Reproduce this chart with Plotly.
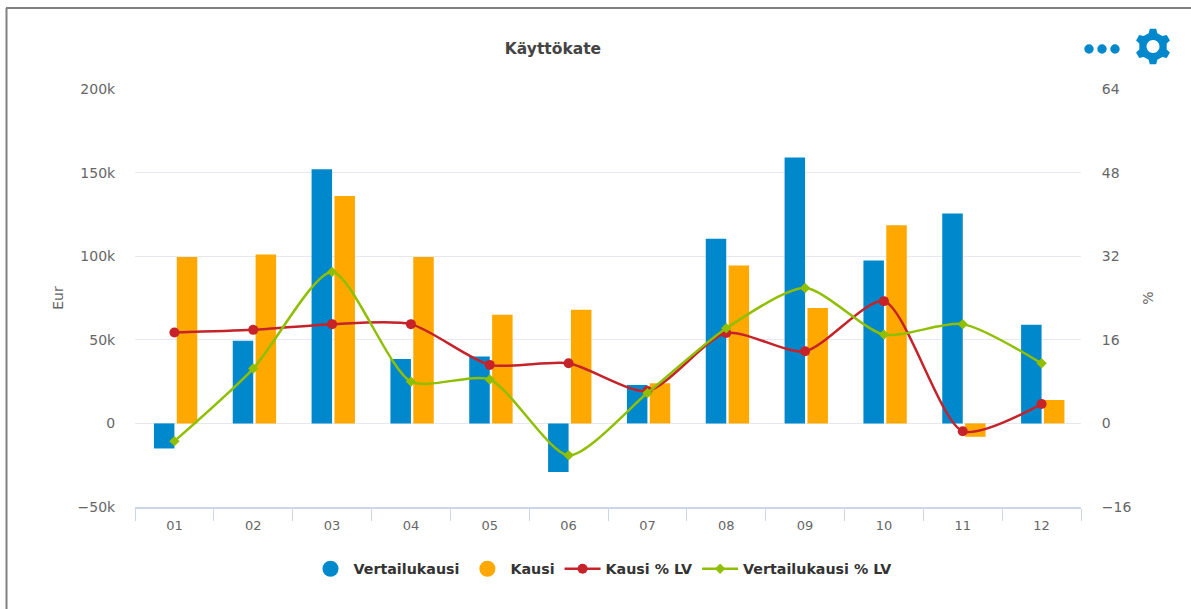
import math
import plotly.graph_objects as go

months = ["01","02","03","04","05","06","07","08","09","10","11","12"]
vertailu = [-15000,49500,152000,38500,40000,-29000,23000,110500,159000,97500,125500,59000]
kausi = [99500,101000,136000,99500,65000,68000,24000,94500,69000,118500,-8000,14000]
kausi_pct = [17.4,17.9,19.0,19.0,11.2,11.5,6.2,17.3,13.8,23.4,-1.5,3.7]
vertailu_pct = [-3.4,10.5,29.0,8.0,8.4,-6.1,5.8,18.2,25.9,17.0,19.0,11.5]
left_ticks = [-50000,0,50000,100000,150000,200000]
left_labels = ["−50k","0","50k","100k","150k","200k"]
right_ticks = [-16,0,16,32,48,64]
right_labels = ["−16","0","16","32","48","64"]

BLUE="#0088cc"; ORANGE="#ffa800"; RED="#c5222a"; GREEN="#8fbf00"
FONT="DejaVu Sans"
W,H=1191,609
L,R,T,B=135,1081,89,507
px=lambda x:(x-L)/(R-L)
py=lambda y:(B-y)/(B-T)

fig=go.Figure()
fig.add_bar(x=months,y=vertailu,width=0.26,offset=-0.26,marker_color=BLUE,marker_line_width=0,showlegend=False,name="Vertailukausi")
fig.add_bar(x=months,y=kausi,width=0.26,offset=0.03,marker_color=ORANGE,marker_line_width=0,showlegend=False,name="Kausi")
fig.add_scatter(x=[None],y=[None],mode="markers",name="Vertailukausi",marker=dict(color=BLUE,size=16,symbol="circle"))
fig.add_scatter(x=[None],y=[None],mode="markers",name="Kausi",marker=dict(color=ORANGE,size=16,symbol="circle"))
fig.add_scatter(x=months,y=kausi_pct,yaxis="y2",mode="lines+markers",name="Kausi % LV",
    line=dict(color=RED,width=2.5,shape="spline",smoothing=0.7),marker=dict(color=RED,size=10,symbol="circle"))
fig.add_scatter(x=months,y=vertailu_pct,yaxis="y2",mode="lines+markers",name="Vertailukausi % LV",
    line=dict(color=GREEN,width=2.5,shape="spline",smoothing=0.7),marker=dict(color=GREEN,size=8,symbol="diamond"))

def gear_path(cx,cy,ro,ri,hole,teeth=6):
    pts=[]
    step=2*math.pi/teeth
    for i in range(teeth):
        a=i*step-math.pi/2
        for da,r in ((-0.30*step,ri),(-0.17*step,ro),(0.17*step,ro),(0.30*step,ri)):
            pts.append((cx+r*math.cos(a+da),cy+r*math.sin(a+da)))
    d="M"+" L".join(f"{px(x):.5f},{py(y):.5f}" for x,y in pts)+" Z "
    n=24
    hp=[(cx+hole*math.cos(2*math.pi*k/n),cy+hole*math.sin(2*math.pi*k/n)) for k in range(n)]
    d+="M"+" L".join(f"{px(x):.5f},{py(y):.5f}" for x,y in hp)+" Z"
    return d

shapes=[
 dict(type="line",xref="paper",yref="paper",x0=px(6.5),x1=px(6.5),y0=py(8),y1=py(609),line=dict(color="#808080",width=2),layer="below"),
 dict(type="line",xref="paper",yref="paper",x0=px(6),x1=px(1191),y0=py(8),y1=py(8),line=dict(color="#808080",width=2),layer="below"),
 dict(type="path",xref="paper",yref="paper",path=gear_path(1153,46.5,18,14,6.5),fillcolor=BLUE,line_width=0,fillrule="evenodd"),
]
for cx in (1089,1102,1115):
    shapes.append(dict(type="circle",xref="paper",yref="paper",x0=px(cx-4.7),x1=px(cx+4.7),y0=py(49-4.7),y1=py(49+4.7),fillcolor=BLUE,line_width=0))

fig.update_layout(
 width=W,height=H,autosize=False,
 margin=dict(l=L,r=W-R,t=T,b=H-B,pad=0),
 paper_bgcolor="white",plot_bgcolor="white",
 font=dict(family=FONT,color="#666666",size=13),
 title=dict(text="<b>Käyttökate</b>",x=553/W,xanchor="center",y=1-49/H,yanchor="middle",font=dict(family=FONT,size=15.5,color="#444444")),
 barmode="group",
 xaxis=dict(type="category",categoryorder="array",categoryarray=months,range=[-0.5,11.5],tickson="boundaries",ticks="outside",ticklen=12,tickcolor="#ccd6eb",
   showline=True,linecolor="#ccd6eb",linewidth=1.5,showgrid=False,zeroline=False,tickfont=dict(size=13,color="#666666"),ticklabelstandoff=6),
 yaxis=dict(range=[-50000,200000],tickvals=left_ticks,ticktext=left_labels,gridcolor="#e6e9f0",gridwidth=1,zeroline=False,showline=False,
   title=dict(text="Eur",standoff=10,font=dict(size=14,color="#666666")),ticks="outside",ticklen=16,tickcolor="rgba(0,0,0,0)",tickfont=dict(size=14,color="#666666")),
 yaxis2=dict(range=[-16,64],overlaying="y",side="right",tickvals=right_ticks,ticktext=right_labels,showgrid=False,zeroline=False,showline=False,
   title=dict(text="%",standoff=12,font=dict(size=14,color="#666666")),ticks="outside",ticklen=17,tickcolor="rgba(0,0,0,0)",tickfont=dict(size=14,color="#666666")),
 legend=dict(orientation="h",x=(602-L)/(R-L),xanchor="center",y=py(553),yanchor="top",font=dict(family=FONT,size=14.25,color="#333333",weight="bold"),
   itemsizing="trace",itemwidth=36,tracegroupgap=0,traceorder="normal"),
 shapes=shapes,
)
fig.write_html("out.html",config=dict(displayModeBar=False),post_script="document.body.style.margin='0';")
